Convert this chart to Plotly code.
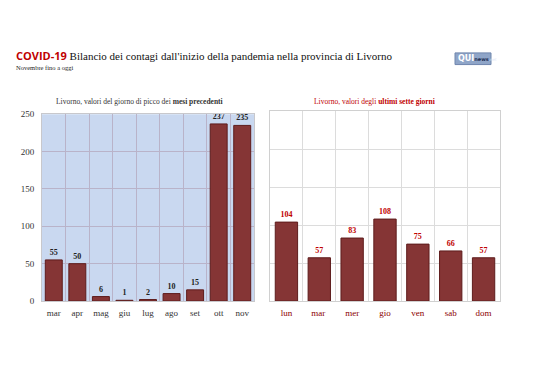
import plotly.graph_objects as go

months = ["mar", "apr", "mag", "giu", "lug", "ago", "set", "ott", "nov"]
month_peaks = [55, 50, 6, 1, 2, 10, 15, 237, 235]
days = ["lun", "mar ", "mer", "gio", "ven", "sab", "dom"]
day_values = [104, 57, 83, 108, 75, 66, 57]
y_ticks = [0, 50, 100, 150, 200, 250]

SERIF = "Liberation Serif, DejaVu Serif, serif"
BAR = "#853535"
BAR_LINE = "#5e1c1c"
RED = "#c00000"

# page body has an 8px margin; figure is sized so it fits the window exactly
OFF = 8
W, H = 538 - OFF, 380 - OFF


def X(px):
    return (px - OFF) / W


def Y(py):
    return 1 - (py - OFF) / H


fig = go.Figure()
fig.add_trace(go.Bar(
    x=months, y=month_peaks, xaxis="x", yaxis="y",
    marker=dict(color=BAR, line=dict(color=BAR_LINE, width=1)),
    text=[f"<b>{v}</b>" for v in month_peaks], textposition="outside",
    textfont=dict(family=SERIF, size=8, color="#222222"),
    cliponaxis=False, width=0.72,
))
fig.add_trace(go.Bar(
    x=days, y=day_values, xaxis="x2", yaxis="y2",
    marker=dict(color=BAR, line=dict(color=BAR_LINE, width=1)),
    text=[f"<b>{v}</b>" for v in day_values], textposition="outside",
    textfont=dict(family=SERIF, size=8, color=RED),
    cliponaxis=False, width=0.68,
))

fig.update_layout(
    width=W, height=H,
    margin=dict(l=0, r=0, t=0, b=0),
    paper_bgcolor="white",
    plot_bgcolor="rgba(0,0,0,0)",
    showlegend=False,
    xaxis=dict(domain=[X(42), X(254)], type="category", tickson="boundaries", tickangle=0,
               showgrid=True, gridcolor="#b9b3c9", gridwidth=1,
               showline=True, linecolor="#c8c8cc", mirror=True, ticks="",
               ticklabelstandoff=3,
               tickfont=dict(family=SERIF, size=9, color="#333333"), anchor="y"),
    yaxis=dict(domain=[Y(304), Y(112)], range=[0, 250], tickvals=y_ticks,
               showgrid=True, gridcolor="#b9b3c9", gridwidth=1,
               showline=True, linecolor="#c8c8cc", mirror=True, zeroline=False,
               ticklabelstandoff=5,
               tickfont=dict(family=SERIF, size=9, color="#333333"), anchor="x"),
    xaxis2=dict(domain=[X(270), X(500)], type="category", tickson="boundaries", tickangle=0,
                showgrid=True, gridcolor="#dcdcdc", gridwidth=1,
                showline=True, linecolor="#d0d0d0", mirror=True, ticks="",
                ticklabelstandoff=3,
                tickfont=dict(family=SERIF, size=9, color="#8b0000"), anchor="y2"),
    yaxis2=dict(domain=[Y(304), Y(109)], range=[0, 250], tickvals=y_ticks,
                showticklabels=False, showgrid=True, gridcolor="#dcdcdc", gridwidth=1,
                showline=True, linecolor="#d0d0d0", mirror=True, zeroline=False, anchor="x2"),
    shapes=[
        dict(type="rect", xref="x domain", yref="y domain", x0=0, x1=1, y0=0, y1=1,
             fillcolor="#c9d8f0", line=dict(width=0), layer="below"),
        dict(type="rect", xref="paper", yref="paper",
             x0=X(455), x1=X(491), y0=Y(61), y1=Y(49),
             fillcolor="#8fa5c8", line=dict(color="#6f86ad", width=1)),
    ],
    annotations=[
        dict(xref="paper", yref="paper", x=X(14), y=Y(52), xanchor="left", yanchor="middle",
             showarrow=False,
             text=("<span style='font-family:Open Sans, Noto Sans, sans-serif;color:#c00000'><b>COVID-19</b></span>"
                   " Bilancio dei contagi dall'inizio della pandemia nella provincia di Livorno"),
             font=dict(family=SERIF, size=11, color="#111111")),
        dict(xref="paper", yref="paper", x=X(14), y=Y(64), xanchor="left", yanchor="middle",
             showarrow=False, text="Novembre fino a oggi",
             font=dict(family=SERIF, size=6.5, color="#222222")),
        dict(xref="paper", yref="paper", x=X(139), y=Y(99), xanchor="center", yanchor="middle",
             showarrow=False, text="Livorno, valori del giorno di picco dei <b>mesi precedenti</b>",
             font=dict(family=SERIF, size=7.5, color="#333333")),
        dict(xref="paper", yref="paper", x=X(374), y=Y(99), xanchor="center", yanchor="middle",
             showarrow=False, text="Livorno, valori degli <b>ultimi sette giorni</b>",
             font=dict(family=SERIF, size=7.5, color=RED)),
        dict(xref="paper", yref="paper", x=X(456), y=Y(55), xanchor="left", yanchor="middle",
             showarrow=False,
             text="<b>QUI</b><span style='font-size:5px;color:#1f2f55'><b>news</b></span><span style='font-size:4px;color:#dde6f5'>.net</span>",
             font=dict(family="DejaVu Sans, sans-serif", size=8, color="white")),
    ],
)

fig.write_html("out.html")
